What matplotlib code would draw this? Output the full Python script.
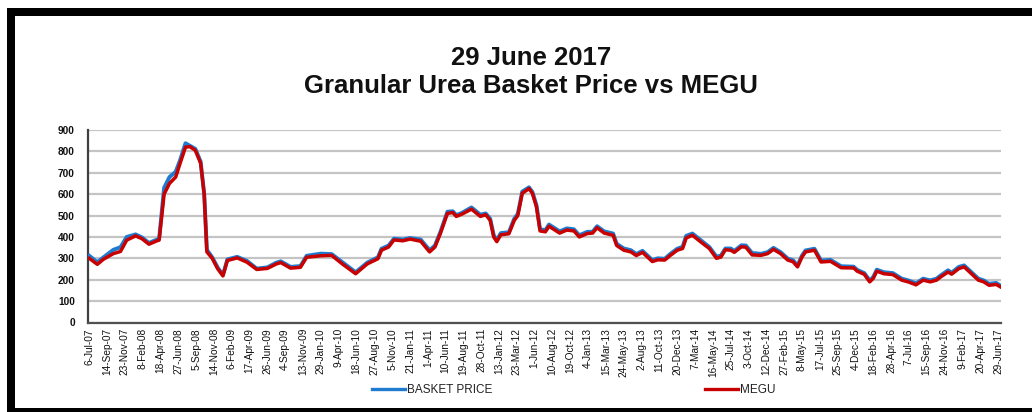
import matplotlib
matplotlib.use("Agg")
import matplotlib.pyplot as plt
from matplotlib import font_manager
from matplotlib.patches import Rectangle
from matplotlib.lines import Line2D

# ---------------- data ----------------
tick_labels = ["6-Jul-07", "14-Sep-07", "23-Nov-07", "8-Feb-08", "18-Apr-08", "27-Jun-08",
               "5-Sep-08", "14-Nov-08", "6-Feb-09", "17-Apr-09", "26-Jun-09", "4-Sep-09",
               "13-Nov-09", "29-Jan-10", "9-Apr-10", "18-Jun-10", "27-Aug-10", "5-Nov-10",
               "21-Jan-11", "1-Apr-11", "10-Jun-11", "19-Aug-11", "28-Oct-11", "13-Jan-12",
               "23-Mar-12", "1-Jun-12", "10-Aug-12", "19-Oct-12", "4-Jan-13", "15-Mar-13",
               "24-May-13", "2-Aug-13", "11-Oct-13", "20-Dec-13", "7-Mar-14", "16-May-14",
               "25-Jul-14", "3-Oct-14", "12-Dec-14", "27-Feb-15", "8-May-15", "17-Jul-15",
               "25-Sep-15", "4-Dec-15", "18-Feb-16", "28-Apr-16", "7-Jul-16", "15-Sep-16",
               "24-Nov-16", "9-Feb-17", "20-Apr-17", "29-Jun-17"]

# category position (in tick-label units) of each sampled observation
obs_pos = [0.0, 0.45, 0.8, 1.35, 1.75, 2.1, 2.6, 2.95, 3.35, 3.8, 3.92, 4.2, 4.5, 4.85,
           5.1, 5.4, 5.65, 5.95, 6.25, 6.45, 6.6, 6.9, 7.2, 7.5, 7.75, 8.3, 8.85, 9.4,
           10.0, 10.5, 10.75, 11.3, 11.85, 12.2, 13.0, 13.6, 14.2, 14.95, 15.6, 16.2,
           16.4, 16.8, 17.1, 17.6, 18.0, 18.6, 19.1, 19.4, 19.7, 20.1, 20.4, 20.6, 20.9,
           21.45, 21.95, 22.25, 22.5, 22.7, 22.87, 23.1, 23.55, 23.85, 24.05, 24.3,
           24.68, 24.87, 25.1, 25.3, 25.6, 25.8, 26.4, 26.8, 27.2, 27.5, 27.95, 28.25,
           28.5, 28.9, 29.4, 29.6, 30.0, 30.4, 30.7, 31.05, 31.6, 31.9, 32.3, 32.6, 33.0,
           33.3, 33.5, 33.85, 34.3, 34.8, 35.2, 35.45, 35.7, 36.0, 36.2, 36.6, 36.85,
           37.2, 37.7, 38.07, 38.4, 38.8, 39.2, 39.5, 39.75, 40.0, 40.2, 40.7, 41.07,
           41.6, 42.2, 42.9, 43.1, 43.5, 43.8, 44.0, 44.2, 44.6, 45.1, 45.6, 45.96, 46.4,
           46.8, 47.2, 47.55, 47.8, 48.2, 48.4, 48.8, 49.1, 49.5, 49.9, 50.2, 50.5, 50.9,
           51.15]

basket_price = [312, 282, 305, 340, 352, 400, 412, 398, 372, 388, 392, 630, 680, 705,
                760, 838, 826, 812, 752, 600, 340, 305, 258, 222, 295, 307, 288, 252,
                258, 280, 286, 260, 264, 312, 322, 320, 282, 235, 280, 305,
                345, 360, 392, 388, 395, 388, 338, 360, 422, 518, 520, 502, 512,
                538, 504, 510, 485, 408, 385, 418, 422, 485, 508, 612,
                632, 610, 548, 436, 432, 458, 426, 440, 436, 408, 424, 424,
                450, 426, 416, 368, 346, 338, 320, 335, 292, 300, 298, 320, 345,
                354, 405, 416, 386, 353, 308, 313, 346, 346, 335, 361, 360,
                325, 321, 329, 349, 329, 299, 291, 266, 313, 337, 345, 290,
                293, 263, 261, 246, 231, 196, 213, 247, 235, 231, 205, 197, 183,
                205, 197, 205, 221, 244, 233, 260, 267, 236, 205, 197, 181, 185,
                172]

megu = [300, 272, 296, 322, 332, 385, 405, 392, 366, 382, 385, 600, 650, 680,
        745, 820, 822, 805, 745, 600, 330, 300, 252, 218, 290, 302, 282, 248,
        253, 274, 280, 254, 258, 305, 312, 314, 274, 228, 274, 298,
        338, 353, 386, 382, 390, 380, 330, 353, 415, 510, 514, 496, 506,
        530, 496, 504, 478, 400, 378, 410, 415, 477, 500, 604,
        626, 604, 540, 428, 424, 450, 418, 432, 428, 400, 416, 418,
        443, 418, 408, 360, 338, 330, 313, 328, 285, 293, 292, 313, 338,
        346, 395, 408, 378, 346, 300, 306, 340, 338, 328, 354, 352,
        316, 314, 322, 342, 322, 292, 284, 260, 306, 330, 338, 283,
        286, 256, 255, 240, 225, 190, 206, 240, 228, 224, 198, 190, 176,
        198, 190, 198, 214, 236, 226, 252, 260, 229, 198, 190, 174, 178,
        166]

y_ticks = [0, 100, 200, 300, 400, 500, 600, 700, 800, 900]
title_lines = ["29 June 2017", "Granular Urea Basket Price vs MEGU"]
series_names = ["BASKET PRICE", "MEGU"]

# ---------------- style ----------------
names = {f.name for f in font_manager.fontManager.ttflist}
base_font = "Liberation Sans" if "Liberation Sans" in names else "DejaVu Sans"
plt.rcParams["font.family"] = [base_font, "DejaVu Sans"]

BLUE = "#1f7bd0"
RED = "#c80000"

W, H = 1032, 412
fig = plt.figure(figsize=(W / 100, H / 100), dpi=100)
fig.patch.set_facecolor("white")

ax = fig.add_axes([87.5 / W, 1 - 322.5 / H, (1001 - 87.5) / W, (322.5 - 130) / H])
ax.set_facecolor("white")

ax.plot(obs_pos, basket_price, color=BLUE, lw=2.8, solid_joinstyle="round", zorder=3)
ax.plot(obs_pos, megu, color=RED, lw=2.5, solid_joinstyle="round", zorder=4)

ax.set_ylim(0, 900)
ax.set_yticks(y_ticks)
ax.set_xlim(-0.1, 51.17)
ax.set_xticks(range(len(tick_labels)))
ax.set_xticklabels(tick_labels, rotation=90, fontsize=7.3, color="#111111")
ax.tick_params(axis="y", length=0, pad=9, labelsize=7.3, labelcolor="#111111")
ax.tick_params(axis="x", length=0, pad=4)
for lbl in ax.get_yticklabels():
    lbl.set_fontweight("bold")

ax.yaxis.grid(True, color="#c4c4c4", lw=1.6, zorder=1)
ax.set_axisbelow(True)
for s in ["top", "right"]:
    ax.spines[s].set_visible(False)
ax.spines["left"].set_color("#404040")
ax.spines["bottom"].set_color("#505050")
ax.spines["left"].set_linewidth(1.6)
ax.spines["bottom"].set_linewidth(1.6)

# titles
fig.text(531 / W, 1 - 58 / H, title_lines[0], ha="center", va="center",
         fontsize=18.5, fontweight="bold", color="#111111")
fig.text(531 / W, 1 - 86 / H, title_lines[1], ha="center", va="center",
         fontsize=18.5, fontweight="bold", color="#111111")

# legends (two separate entries)
leg_fs = 8.5
h1 = Line2D([], [], color=BLUE, lw=2.4)
h2 = Line2D([], [], color=RED, lw=2.4)
fig.legend([h1], [series_names[0]], loc="center left", bbox_to_anchor=(372 / W, 1 - 390 / H),
           frameon=False, fontsize=leg_fs, handlelength=2.8, handletextpad=0.2,
           borderpad=0, borderaxespad=0, labelcolor="#222222")
fig.legend([h2], [series_names[1]], loc="center left", bbox_to_anchor=(705 / W, 1 - 390 / H),
           frameon=False, fontsize=leg_fs, handlelength=2.8, handletextpad=0.2,
           borderpad=0, borderaxespad=0, labelcolor="#222222")

# black frame (top, left, bottom)
fig.patches.append(Rectangle((7 / W, 1 - 16 / H), 1 - 7 / W, 8 / H, transform=fig.transFigure,
                             facecolor="black", edgecolor="none"))
fig.patches.append(Rectangle((7 / W, 0), 8 / W, 1 - 8 / H, transform=fig.transFigure,
                             facecolor="black", edgecolor="none"))
fig.patches.append(Rectangle((7 / W, 0), 1 - 7 / W, 4 / H, transform=fig.transFigure,
                             facecolor="black", edgecolor="none"))

fig.savefig("out.png", dpi=100, facecolor="white")
